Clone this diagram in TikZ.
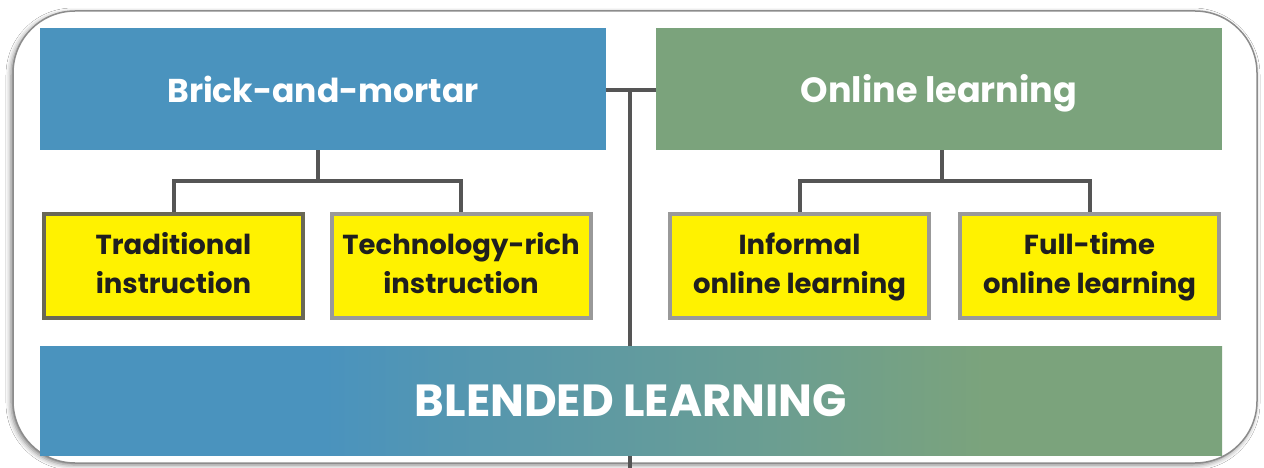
\documentclass[tikz,border=0pt]{standalone}
\usepackage{fontspec}
\setmainfont{Poppins}
\usetikzlibrary{shadows.blur}
\definecolor{bblue}{HTML}{4A93BE}
\definecolor{ggreen}{HTML}{7BA37C}
\definecolor{yel}{HTML}{FFF200}
\definecolor{conn}{HTML}{555555}
\definecolor{darkborder}{HTML}{6A6856}
\pgfdeclarehorizontalshading{blendshade}{100bp}{color(0bp)=(bblue); color(37bp)=(bblue); color(65bp)=(ggreen); color(100bp)=(ggreen)}
\tikzset{
  topbox/.style={minimum width=566pt, minimum height=122pt, inner sep=0pt, text=white, text height=28pt, text depth=0pt, font=\fontsize{33}{38}\selectfont\bfseries},
  subbox/.style={fill=yel, line width=4pt, minimum width=259pt, minimum height=104pt, inner sep=0pt, align=center, text=black!88, font=\fontsize{27.5}{39}\selectfont\bfseries},
  connline/.style={draw=conn, line width=4pt},
}
\begin{document}
\begin{tikzpicture}[x=1pt,y=-1pt]
\useasboundingbox (0,0) rectangle (1264,468);
\fill[white] (0,0) rectangle (1264,468);
\draw[draw=black!45, line width=1.5pt, fill=white, rounded corners=62pt,
  blur shadow={shadow xshift=-2pt, shadow yshift=-2pt, shadow blur radius=5pt, shadow opacity=50}]
  (13,11) rectangle (1257,463);
% top boxes
\node[topbox, fill=bblue] (bm) at (323,89) {Brick-and-mortar};
\node[topbox, fill=ggreen, font=\fontsize{35}{40}\selectfont\bfseries] (ol) at (939,89) {Online learning};
% sub boxes
\node[subbox, draw=darkborder] (t1) at (173.5,266) {\strut Traditional\\\strut instruction};
\node[subbox, draw=black!40] (t2) at (461,266) {\strut Technology-rich\\\strut instruction};
\node[subbox, draw=black!40] (t3) at (799.5,266) {\strut Informal\\\strut online learning};
\node[subbox, draw=black!40] (t4) at (1089.5,266) {\strut Full-time\\\strut online learning};
% central connector
\coordinate (cj) at (630,90);
\coordinate (cend) at (630,468);
\draw[connline] (bm.east |- cj) -- (ol.west |- cj);
\draw[connline] (cj) -- (cend);
% left tree
\coordinate (lj) at (318,181);
\draw[connline] (bm.south -| lj) -- (lj);
\draw[connline] (t1.north) |- (lj) -| (t2.north);
% right tree
\coordinate (rj) at (942,181);
\draw[connline] (ol.south -| rj) -- (rj);
\draw[connline] (t3.north) |- (rj) -| (t4.north);
% blended
\node[shading=blendshade, minimum width=1182pt, minimum height=109pt, inner sep=0pt,
  text=white, font=\fontsize{45}{50}\selectfont\bfseries] (bl) at (631,400.5) {BLENDED LEARNING};
\end{tikzpicture}
\end{document}
